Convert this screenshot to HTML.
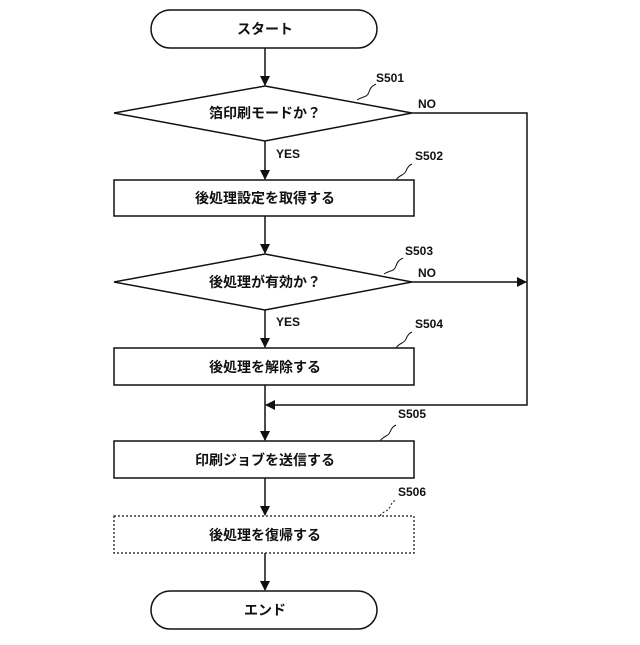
<!DOCTYPE html>
<html><head><meta charset="utf-8"><style>
body{margin:0;background:#fff}
text{font-family:"Liberation Sans","Noto Sans CJK JP",sans-serif;font-weight:bold;fill:#111}
</style></head><body>
<svg width="640" height="640" viewBox="0 0 640 640" xmlns="http://www.w3.org/2000/svg">
<defs><marker id="a" markerWidth="10" markerHeight="10" refX="9" refY="5" orient="auto" markerUnits="userSpaceOnUse"><path d="M0,0 L10,5 L0,10 z" fill="#111"/></marker></defs>
<g stroke="#111" stroke-width="1.5" fill="none">
<rect x="151" y="10" width="226" height="38" rx="19" fill="#fff"/>
<line x1="265" y1="48" x2="265" y2="85" marker-end="url(#a)"/>
<polygon points="265,86 412,113 265,141 114,113" fill="#fff"/>
<line x1="265" y1="141" x2="265" y2="179" marker-end="url(#a)"/>
<rect x="114" y="180" width="300" height="36"/>
<line x1="265" y1="216" x2="265" y2="253" marker-end="url(#a)"/>
<polygon points="265,254 412,282 265,310 114,282" fill="#fff"/>
<line x1="265" y1="310" x2="265" y2="347" marker-end="url(#a)"/>
<rect x="114" y="348" width="300" height="37"/>
<line x1="265" y1="385" x2="265" y2="440" marker-end="url(#a)"/>
<polyline points="412,113 527,113 527,405 266,405" marker-end="url(#a)"/>
<line x1="412" y1="282" x2="526" y2="282" marker-end="url(#a)"/>
<rect x="114" y="441" width="300" height="37"/>
<line x1="265" y1="478" x2="265" y2="515" marker-end="url(#a)"/>
<rect x="114" y="516" width="300" height="37" stroke-dasharray="2,2" stroke-width="1.2"/>
<line x1="265" y1="553" x2="265" y2="590" marker-end="url(#a)"/>
<rect x="151" y="591" width="226" height="38" rx="19" fill="#fff"/>
<path d="M357,100 c6,-4 10,-2 12,-8 c2,-6 4,-6 7,-8" stroke-width="1"/>
<path d="M396,180 c4,-6 8,-4 10,-9 c2,-5 4,-6 6,-7" stroke-width="1"/>
<path d="M384,274 c6,-4 10,-2 12,-8 c2,-6 4,-6 7,-8" stroke-width="1"/>
<path d="M396,348 c4,-6 8,-4 10,-9 c2,-5 4,-6 6,-7" stroke-width="1"/>
<path d="M380,441 c4,-6 8,-4 10,-9 c2,-5 4,-6 6,-7" stroke-width="1"/>
<path d="M380,516 c4,-6 8,-4 10,-9 c2,-5 4,-6 6,-7" stroke-width="1" stroke-dasharray="2,2"/>
</g>
<g font-size="14" text-anchor="middle">
<text x="265" y="34">スタート</text>
<text x="265" y="118">箔印刷モードか？</text>
<text x="265" y="203">後処理設定を取得する</text>
<text x="265" y="287">後処理が有効か？</text>
<text x="265" y="372">後処理を解除する</text>
<text x="265" y="465">印刷ジョブを送信する</text>
<text x="265" y="540">後処理を復帰する</text>
<text x="265" y="615">エンド</text>
</g>
<g font-size="12">
<text x="376" y="82">S501</text>
<text x="418" y="108">NO</text>
<text x="276" y="158">YES</text>
<text x="415" y="160">S502</text>
<text x="405" y="255">S503</text>
<text x="418" y="277">NO</text>
<text x="276" y="326">YES</text>
<text x="415" y="328">S504</text>
<text x="398" y="418">S505</text>
<text x="398" y="496">S506</text>
</g>
</svg>
</body></html>
